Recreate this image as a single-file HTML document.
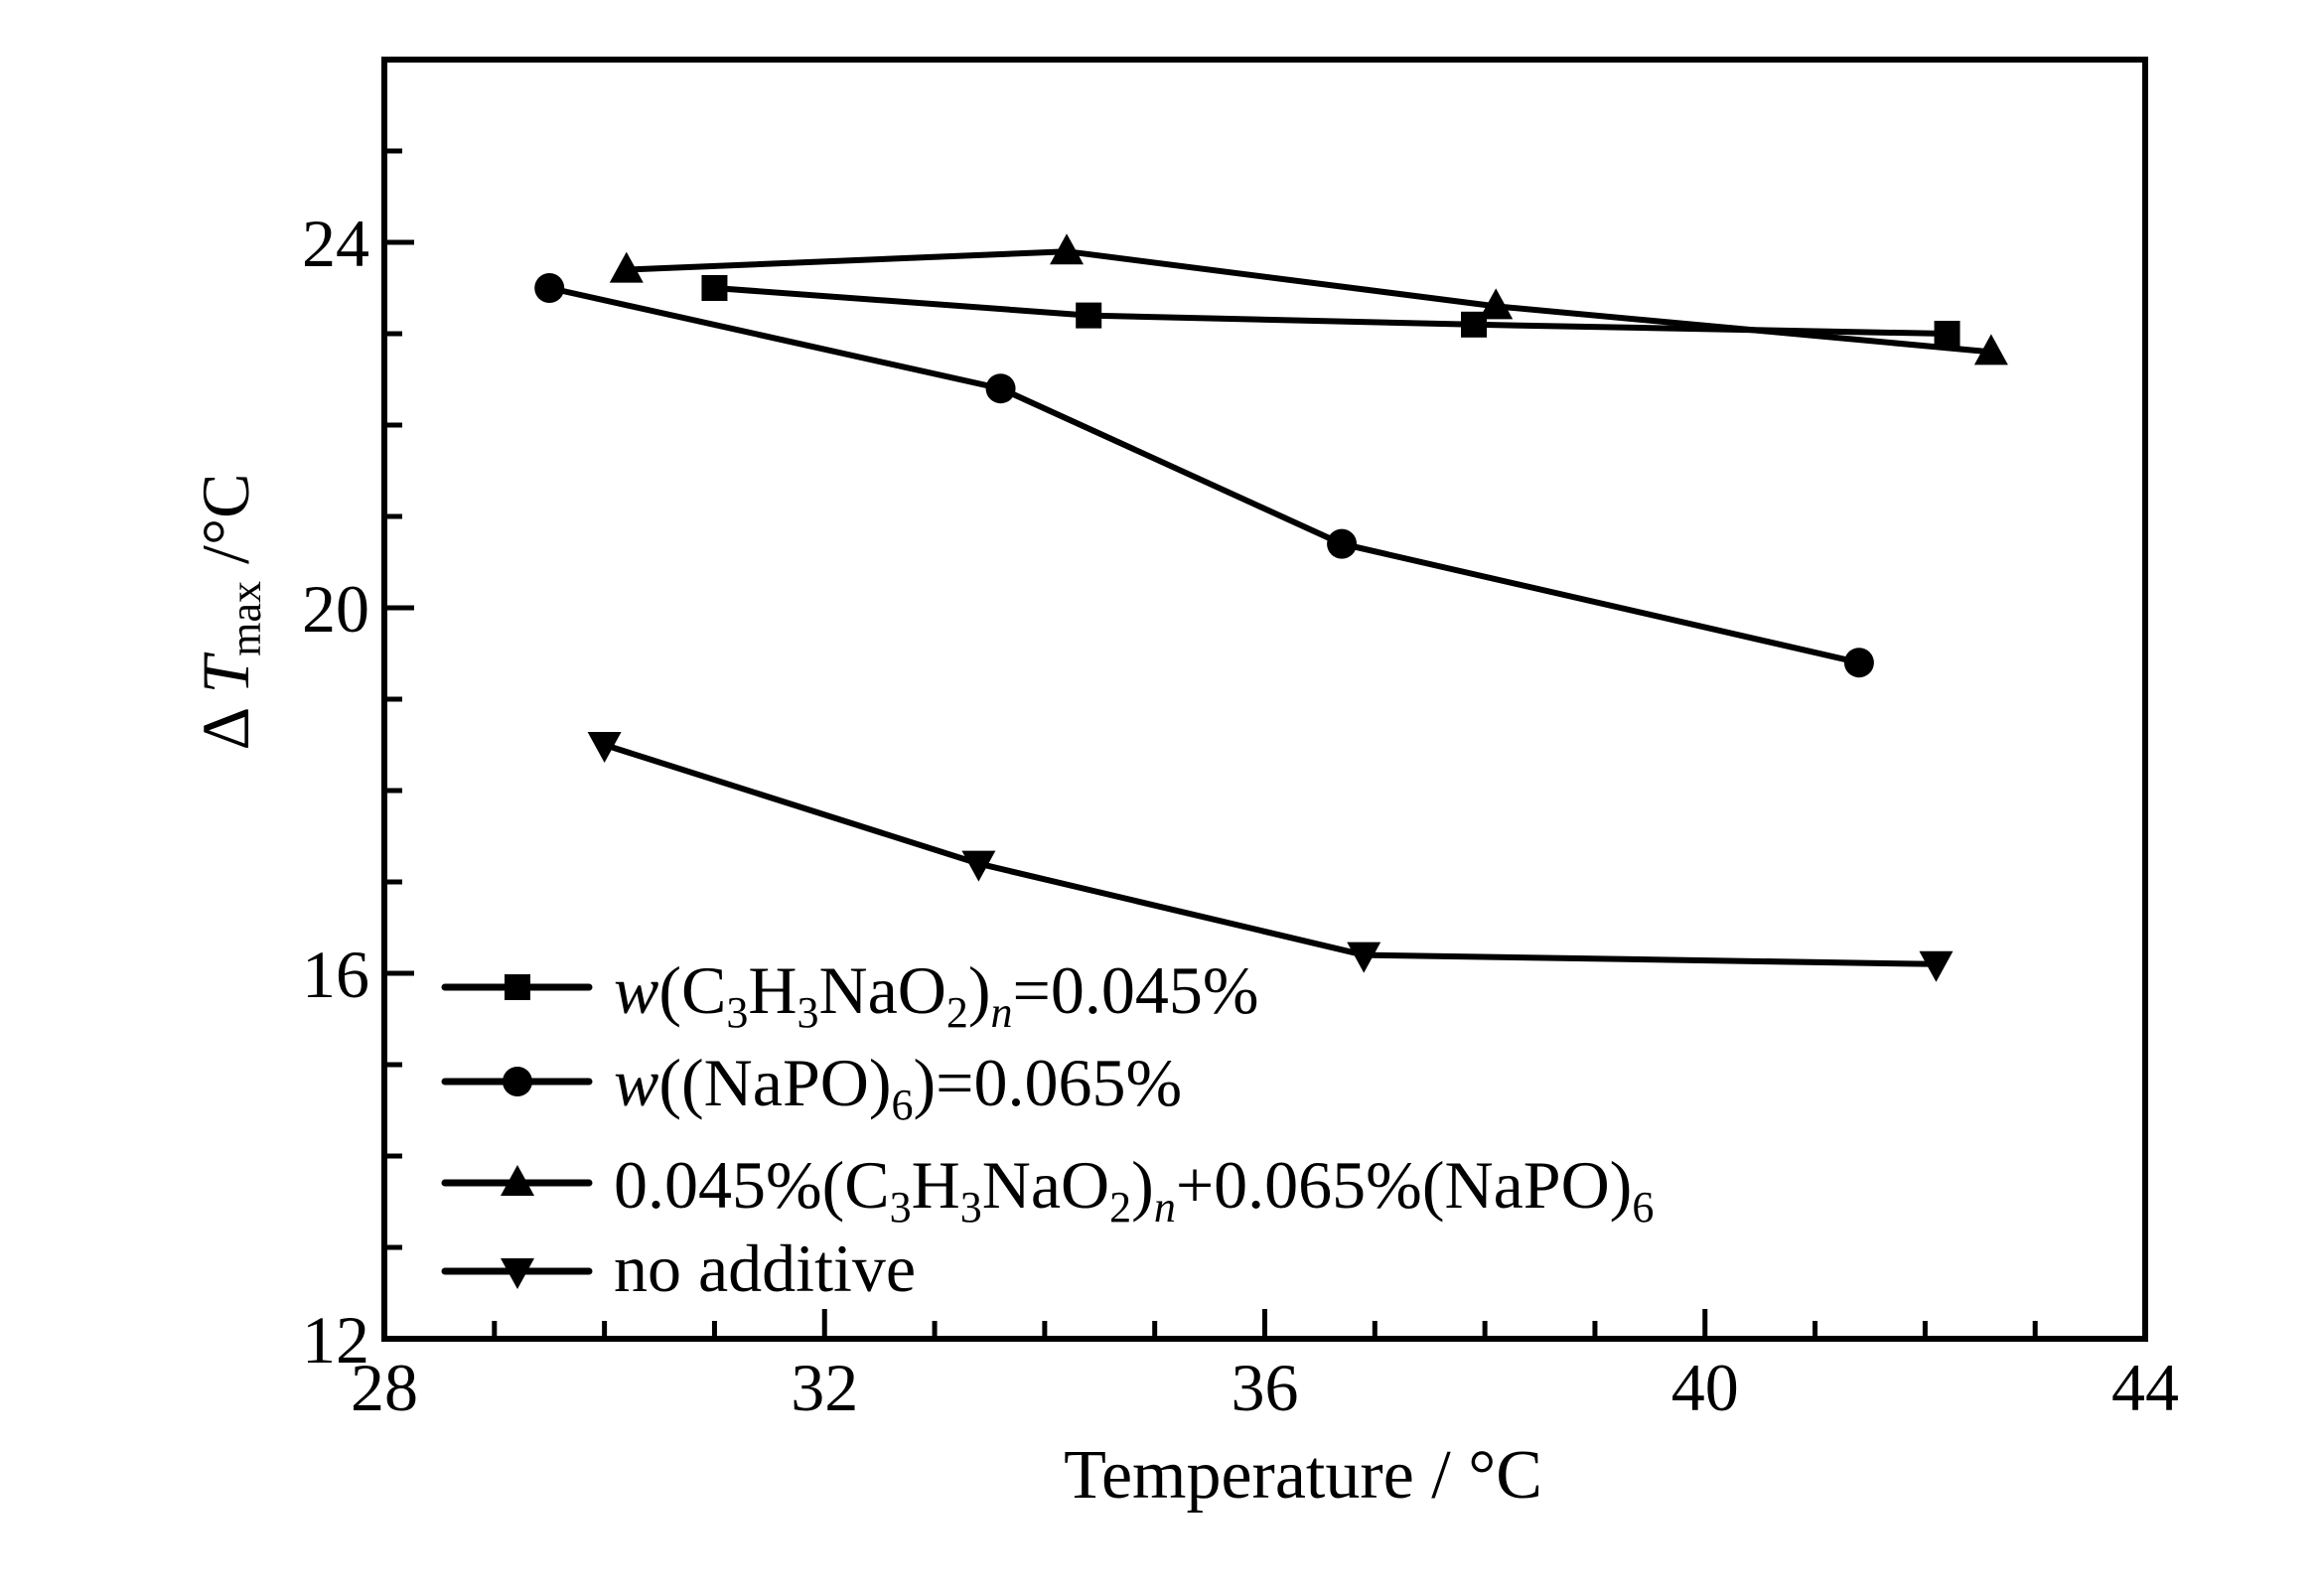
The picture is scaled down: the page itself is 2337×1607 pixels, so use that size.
<!DOCTYPE html>
<html><head><meta charset="utf-8"><style>
html,body{margin:0;padding:0;background:#fff}
svg{display:block;font-family:"Liberation Serif",serif}
</style></head><body>
<svg id="chart" width="2337" height="1607" viewBox="0 0 2337 1607">
<g id="plot"></g>
<g font-family="Liberation Serif, serif" font-size="68">
<text x="618" y="1020"><tspan font-style="italic">w</tspan>(C<tspan font-size="44" dy="14">3</tspan><tspan dy="-14">H</tspan><tspan font-size="44" dy="14">3</tspan><tspan dy="-14">NaO</tspan><tspan font-size="44" dy="14">2</tspan><tspan dy="-14">)</tspan><tspan font-size="44" font-style="italic" dy="14">n</tspan><tspan dy="-14">=0.045%</tspan></text>
<text x="618" y="1113"><tspan font-style="italic">w</tspan>((NaPO)<tspan font-size="44" dy="14">6</tspan><tspan dy="-14">)=0.065%</tspan></text>
<text x="618" y="1216">0.045%(C<tspan font-size="44" dy="14">3</tspan><tspan dy="-14">H</tspan><tspan font-size="44" dy="14">3</tspan><tspan dy="-14">NaO</tspan><tspan font-size="44" dy="14">2</tspan><tspan dy="-14">)</tspan><tspan font-size="44" font-style="italic" dy="14">n</tspan><tspan dy="-14">+0.065%(NaPO)</tspan><tspan font-size="44" dy="14">6</tspan></text>
<text x="618" y="1300">no additive</text>
<text x="1312" y="1508" text-anchor="middle" font-size="70">Temperature / °C</text>
<text transform="translate(250,616) rotate(-90)" text-anchor="middle" font-size="68">Δ <tspan font-style="italic">T</tspan><tspan font-size="44" dy="12">max</tspan><tspan dy="-12"> /°C</tspan></text>
</g>
</svg>
<script>
const xTicks=[28,32,36,40,44];
const yTicks=[12,16,20,24];
const seriesNames=["square","circle","triangle","down"];
const sqX=[31,34.4,37.9,42.2], sqY=[23.5,23.2,23.1,23.0];
const ciX=[29.5,33.6,36.7,41.4], ciY=[23.5,22.4,20.7,19.4];
const trX=[30.2,34.2,38.1,42.6], trY=[23.7,23.9,23.3,22.8];
const dnX=[30,33.4,36.9,42.1], dnY=[18.5,17.2,16.2,16.1];

const L=387,R=2160,T=60,B=1348,xmin=28,xmax=44,ymin=12,ymax=26;
const sx=v=>L+(v-xmin)/(xmax-xmin)*(R-L);
const sy=v=>B-(v-ymin)/(ymax-ymin)*(B-T);
const NS="http://www.w3.org/2000/svg";
const g=document.getElementById('plot');
function mk(t,a,p){const e=document.createElementNS(NS,t);for(const k in a)e.setAttribute(k,a[k]);(p||g).appendChild(e);return e;}

function marker(type,cx,cy,name){
  let e;const s=15;
  if(type==="square")e=mk('rect',{x:cx-s+2,y:cy-s+2,width:2*s-4,height:2*s-4,fill:'#000'});
  else if(type==="circle")e=mk('circle',{cx:cx,cy:cy,r:s,fill:'#000'});
  else if(type==="triangle")e=mk('polygon',{points:`${cx},${cy-s-3} ${cx+s+2},${cy+s-2} ${cx-s-2},${cy+s-2}`,fill:'#000'});
  else e=mk('polygon',{points:`${cx},${cy+s+3} ${cx+s+2},${cy-s+2} ${cx-s-2},${cy-s+2}`,fill:'#000'});
  
  
}
for(let v=xmin+1;v<xmax;v++){
  const len=v%4===0?30:18;
  const t=mk('line',{x1:sx(v),x2:sx(v),y1:B,y2:B-len,stroke:'#000','stroke-width':5});
  
  
}
for(let v=ymin+1;v<ymax;v++){
  const len=v%4===0?30:18;
  const t=mk('line',{x1:L,x2:L+len,y1:sy(v),y2:sy(v),stroke:'#000','stroke-width':5});
  
  
}
xTicks.forEach(v=>{
  const t=mk('text',{x:sx(v),y:B+72,'font-size':68,'text-anchor':'middle'});t.textContent=v;
  
  
});
yTicks.forEach(v=>{
  const t=mk('text',{x:L-15,y:sy(v)+24,'font-size':68,'text-anchor':'end'});t.textContent=v;
  
  
});
const fr=mk('rect',{x:L,y:T,width:R-L,height:B-T,fill:'none',stroke:'#000','stroke-width':6});



const data=[[sqX,sqY],[ciX,ciY],[trX,trY],[dnX,dnY]];
data.forEach((d,i)=>{
  const pts=d[0].map((x,j)=>sx(x)+','+sy(d[1][j])).join(' ');
  const pl=mk('polyline',{points:pts,fill:'none',stroke:'#000','stroke-width':6});
  
  
  d[0].forEach((x,j)=>marker(seriesNames[i],sx(x),sy(d[1][j]),'point-'+seriesNames[i]));
});
const ly=[994,1089,1191,1280];
ly.forEach((y,i)=>{
  const l=mk('line',{x1:448,x2:593,y1:y,y2:y,stroke:'#000','stroke-width':7,'stroke-linecap':'round'});
  
  
  marker(seriesNames[i],521,y,'legend-marker');
});
</script>
</body></html>
